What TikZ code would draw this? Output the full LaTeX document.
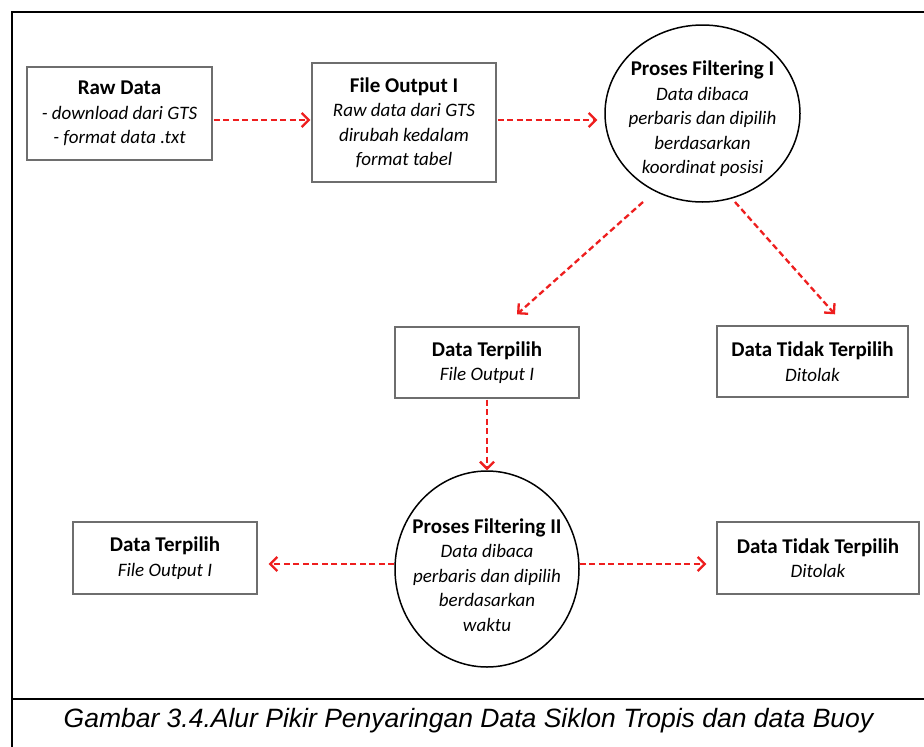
\documentclass[tikz,border=0pt]{standalone}
\usepackage{fontspec}
\setmainfont{Carlito}
\newfontfamily\capfont{Liberation Sans}
\usetikzlibrary{arrows.meta,shapes.geometric,calc}
\definecolor{arrred}{RGB}{238,30,30}
\definecolor{boxgray}{RGB}{110,110,110}
\tikzset{
  flowbox/.style={draw=boxgray, line width=1.4pt, fill=white, align=center, inner sep=0pt,
    font=\fontsize{19}{24.5}\selectfont\itshape},
  flowell/.style={draw=black, line width=1.5pt, ellipse, inner sep=0pt, fill=white},
  elltext/.style={align=center, inner sep=0pt, font=\fontsize{19}{24.5}\selectfont\itshape},
  flowarr/.style={draw=arrred, line width=2.3pt, dash pattern=on 6pt off 3.5pt,
    -{Straight Barb[length=7pt,width=14pt,line width=2.3pt]}},
  framerule/.style={line width=2pt, draw=black},
}
\newcommand{\ttl}[1]{{\fontsize{21}{25}\selectfont\bfseries\upshape #1}}
\begin{document}
\begin{tikzpicture}[x=1pt,y=-1pt]
\fill[white] (0,0) rectangle (924,747);
\useasboundingbox (0,0) rectangle (924,747);

% frame
\draw[framerule] (924,12) -- (12,12) -- (12,747);
\draw[framerule] (12,699) -- (924,699);

% boxes
\node[flowbox, minimum width=185pt, minimum height=93pt] (raw) at (119.5,113.5)
  {\ttl{Raw Data}\\- download dari GTS\\- format data .txt};
\node[flowbox, minimum width=184pt, minimum height=119pt] (fo) at (404,122.5)
  {\ttl{File Output I}\\Raw data dari GTS\\dirubah kedalam\\format tabel};
\node[flowell, minimum width=195pt, minimum height=177pt] (c1) at (702.5,113.5) {};
\node[elltext] (c1t) at ($(c1.center)+(0,5.5)$)
  {\ttl{Proses Filtering I}\\Data dibaca\\perbaris dan dipilih\\berdasarkan\\koordinat posisi};

\node[flowbox, minimum width=184pt, minimum height=71pt] (mid) at (487,362.5)
  {\ttl{Data Terpilih}\\File Output I};
\node[flowbox, minimum width=191pt, minimum height=71pt] (tp) at (812.5,361.5)
  {\ttl{Data Tidak Terpilih}\\Ditolak};

\node[flowell, minimum width=184pt, minimum height=196pt] (c2) at (487,569) {};
\node[elltext] (c2t) at ($(c2.center)+(0,6)$)
  {\ttl{Proses Filtering II}\\Data dibaca\\perbaris dan dipilih\\berdasarkan\\waktu};

\node[flowbox, minimum width=184pt, minimum height=72pt] (lb) at (165,558)
  {\ttl{Data Terpilih}\\File Output I};
\node[flowbox, minimum width=202pt, minimum height=72pt] (rb) at (818,558)
  {\ttl{Data Tidak Terpilih}\\Ditolak};

% connectors
\coordinate (ya) at (0,120);
\coordinate (yb) at (0,564);
\draw[flowarr, shorten >=1pt] ([xshift=1pt]raw.east |- ya) -- (fo.west |- ya);
\draw[flowarr, shorten >=7pt] ([xshift=1pt]fo.east |- ya) -- (c1.west |- ya);
\draw[flowarr] ($(c1.center)+(-59.5,88.5)$) -- ($(mid.north)+(30,-12)$);
\draw[flowarr] ($(c1.center)+(32.5,88.5)$) -- ($(tp.north)+(22.5,-11)$);
\draw[flowarr] ([yshift=-1pt]mid.south) -- (c2.north);
\draw[flowarr] (c2.west |- yb) -- ($(lb.east |- yb)+(11,0)$);
\draw[flowarr] (c2.east |- yb) -- ($(rb.west |- yb)+(-10,0)$);

% caption
\node[font=\capfont\itshape\fontsize{26.5}{30}\selectfont, anchor=base, inner sep=0pt] (cap) at (468.5,727)
  {Gambar 3.4.Alur Pikir Penyaringan Data Siklon Tropis dan data Buoy};
\end{tikzpicture}
\end{document}
